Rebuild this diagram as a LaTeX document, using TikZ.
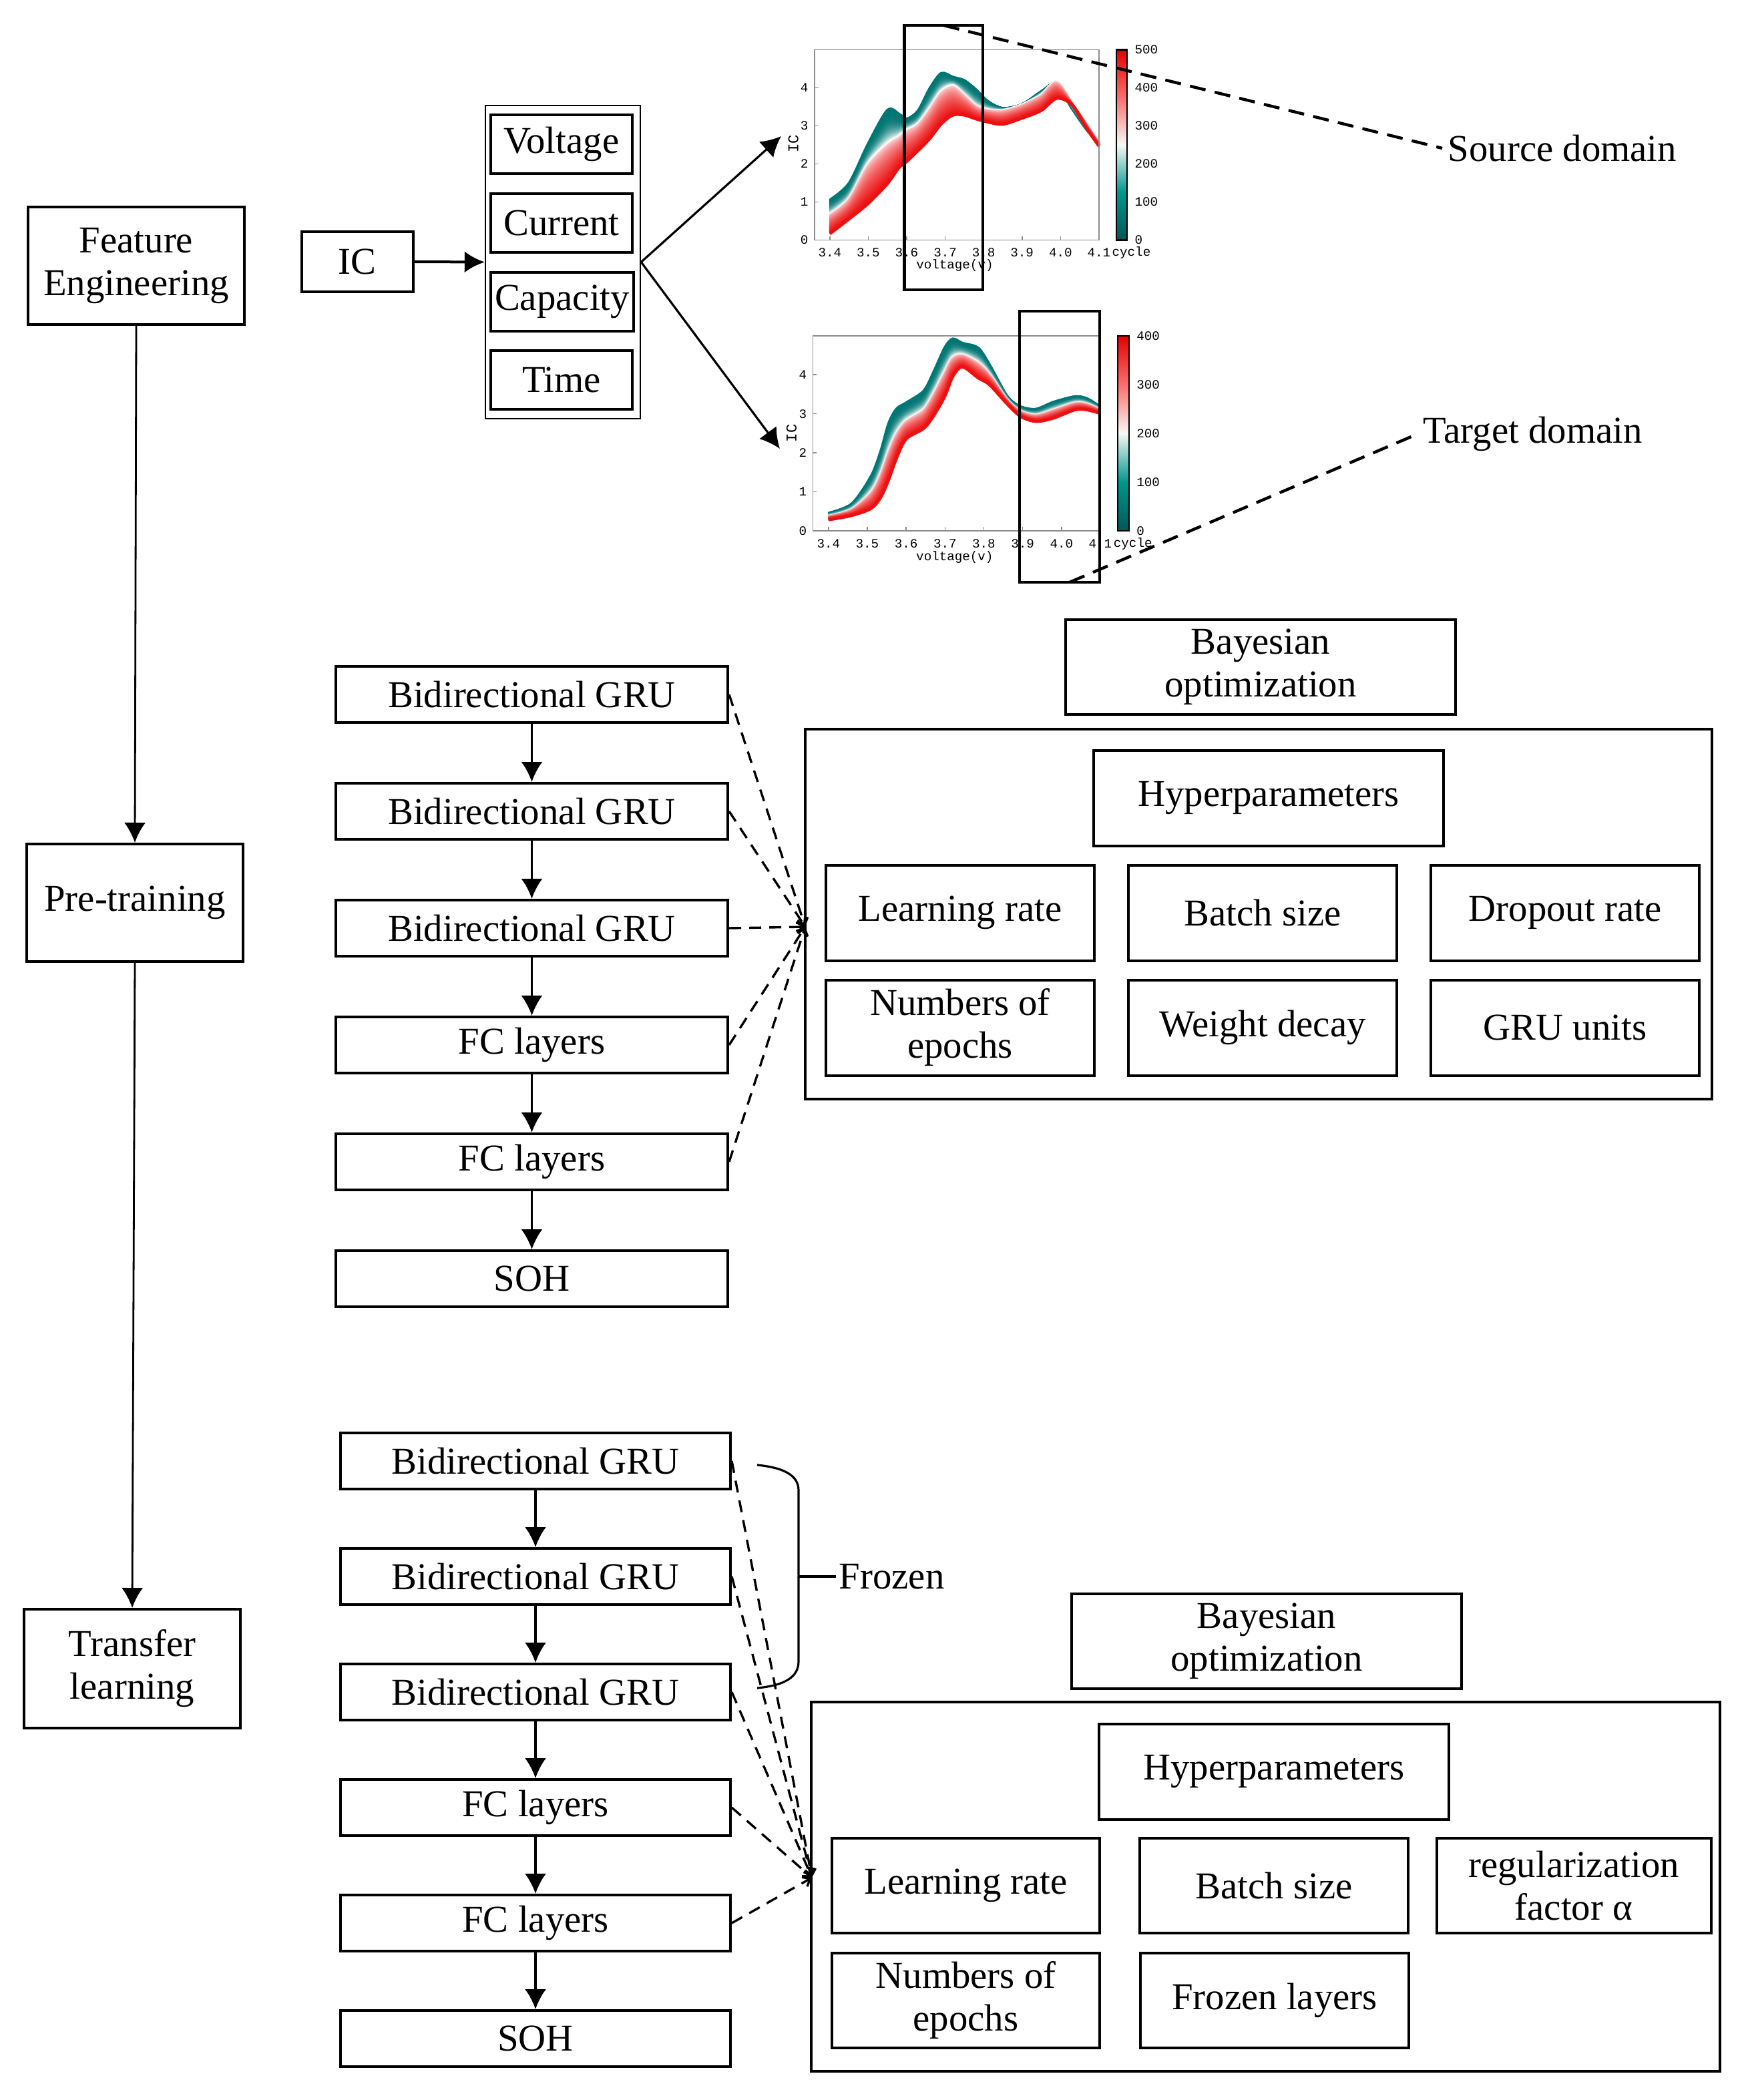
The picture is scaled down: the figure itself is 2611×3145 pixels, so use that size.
\documentclass[tikz,border=0pt]{standalone}
\usepackage{fontspec}
\setmainfont{Liberation Serif}
\setmonofont{Liberation Mono}
\usetikzlibrary{arrows.meta}
\definecolor{tealA}{RGB}{0,118,116}
\definecolor{redA}{RGB}{236,16,16}
\definecolor{framegray}{RGB}{140,140,140}
\definecolor{cbA}{RGB}{0,88,86}
\definecolor{cbB}{RGB}{0,150,142}
\definecolor{cbM}{RGB}{246,248,244}
\definecolor{cbC}{RGB}{250,110,108}
\definecolor{cbD}{RGB}{228,0,0}
\pgfdeclareverticalshading{cbar}{100bp}{color(0bp)=(cbA); color(25bp)=(cbA); color(37.5bp)=(cbB); color(50bp)=(cbM); color(62.5bp)=(cbC); color(75bp)=(cbD); color(100bp)=(cbD)}
\newcommand\boxfont{\fontsize{14.2}{16}\selectfont}
\newcommand\tkf{\ttfamily\fontsize{4.8}{6}\selectfont}
\newcommand\lbf{\ttfamily\fontsize{5.6}{6}\selectfont}
% chart data (voltage offset from 3.4 V, IC values)
\def\xsA{{0,0.05,0.10,0.15,0.18,0.20,0.23,0.26,0.29,0.32,0.35,0.38,0.41,0.45,0.50,0.55,0.59,0.63,0.67,0.70}}
\def\topA{{1.05,1.49,2.53,3.41,3.31,3.18,3.40,3.98,4.38,4.28,4.19,3.95,3.65,3.46,3.56,3.90,4.10,3.46,2.88,2.56}}
\def\midA{{0.67,1.08,2.00,2.53,2.72,2.88,3.05,3.45,3.90,4.05,3.80,3.52,3.42,3.40,3.55,3.81,4.16,3.58,3.00,2.53}}
\def\botA{{0.16,0.55,0.96,1.48,1.90,2.06,2.35,2.66,3.05,3.28,3.28,3.18,3.10,3.04,3.20,3.40,3.72,3.55,2.90,2.47}}
\def\xsB{{0,0.06,0.11,0.135,0.155,0.175,0.20,0.245,0.27,0.30,0.32,0.345,0.385,0.415,0.46,0.495,0.535,0.58,0.635,0.665,0.70}}
\def\topB{{0.45,0.69,1.40,2.05,2.75,3.12,3.28,3.58,4.05,4.70,4.92,4.81,4.69,4.25,3.45,3.18,3.12,3.30,3.44,3.39,3.18}}
\def\midB{{0.365,0.54,0.985,1.455,2.025,2.485,2.815,3.10,3.49,4.075,4.435,4.505,4.305,3.995,3.35,3.055,2.96,3.095,3.27,3.245,3.095}}
\def\botB{{0.28,0.39,0.57,0.86,1.30,1.85,2.35,2.62,2.93,3.45,3.95,4.20,3.92,3.74,3.25,2.93,2.80,2.89,3.10,3.10,3.01}}
\newcommand\drawband[5]{%
  \foreach \k in {0,...,48}{%
    \ifnum\k<25\relax
      \pgfmathsetmacro\s{\k/24}%
      \pgfmathsetmacro\p{100*\s*\s*\s}%
      \colorlet{bandc}{white!\p!tealA}%
      \draw[bandc,line width=1.05pt] plot[smooth,tension=0.5,variable=\i,samples at={0,...,#5}] ({#1[\i]},{#2[\i]+\s*(#3[\i]-#2[\i])});%
    \else
      \pgfmathsetmacro\s{(\k-24)/24}%
      \pgfmathsetmacro\p{100*sqrt(\s)}%
      \colorlet{bandc}{redA!\p!white}%
      \draw[bandc,line width=1.05pt] plot[smooth,tension=0.5,variable=\i,samples at={0,...,#5}] ({#1[\i]},{#3[\i]+\s*(#4[\i]-#3[\i])});%
    \fi
  }%
}
\begin{document}
\begin{tikzpicture}[x=0.25pt,y=-0.25pt,
  box/.style={draw,line width=1pt,align=center,inner sep=0pt,font=\boxfont},
  wh/.style 2 args={minimum width=#1*0.25pt,minimum height=#2*0.25pt},
  arr/.style={line width=0.8pt,-{Latex[length=7.5pt,width=8pt]}},
  dsh/.style={line width=0.85pt,dash pattern=on 4.5pt off 3pt,-{Straight Barb[length=2.5pt,width=4pt]}},
  lnk/.style={line width=1.1pt,dash pattern=on 6pt off 3.5pt},
  tk/.style={font=\tkf,inner sep=0pt},
  cfr/.style={framegray,line width=0.4pt}]
\useasboundingbox (0,0) rectangle (2611,3145);

% ---------- feature engineering row ----------
\node[box,wh={324}{176}] (fe) at (204,398) {Feature\\Engineering};
\node[box,wh={167}{90}] (ic) at (535,392) {IC};
\node[draw,line width=0.6pt,wh={232}{469}] (cont) at (843,392.5) {};
\node[box,wh={212}{88}] (volt) at (841,216) {Voltage};
\node[box,wh={212}{88}] (curr) at (841,334) {Current};
\node[box,wh={214}{88}] (capa) at (842,452) {Capacity};
\node[box,wh={212}{88}] (time) at (841,569) {Time};
\draw[arr,line width=1pt] (ic.east) -- (cont.west);
\coordinate (c1in) at (1170,204);
\coordinate (c2in) at (1168,672);
\draw[arr] (cont.east) -- (c1in);
\draw[arr] (cont.east) -- (c2in);

% ---------- chart 1 (source) ----------
\begin{scope}[xshift=310.7pt,yshift=-89.875pt,x=143.95pt,y=14.25pt]
  \drawband{\xsA}{\topA}{\midA}{\botA}{19}
  \draw[cfr] (-0.04,0) rectangle (0.7,5);
  \foreach \n in {0,...,7} \draw[cfr] (\n*0.1,0) -- (\n*0.1,0.1);
  \foreach \n in {1,...,4} \draw[cfr] (-0.04,\n) -- (-0.03,\n);
  \shade[shading=cbar] (0.7455,0) rectangle (0.7733,5);
  \draw[line width=0.6pt] (0.7455,0) rectangle (0.7733,5);
  \foreach \v [count=\n from 0] in {0,100,200,300,400,500}
    \node[tk,anchor=west] (cbA\n) at (0.792,\n) {\v};
  \foreach \lab [count=\n from 0] in {3.4,3.5,3.6,3.7,3.8,3.9,4.0,4.1}
    \node[tk] (xtA\n) at (\n*0.1,-0.33) {\lab};
  \foreach \n in {0,...,4}
    \node[tk,anchor=east] (ytA\n) at (-0.055,\n) {\n};
  \node[tk,font=\lbf,rotate=90] (ylA) at (-0.095,2.53) {IC};
  \node[tk] (xlA) at (0.325,-0.67) {voltage(v)};
  \node[tk,anchor=west] (cyA) at (0.733,-0.33) {cycle};
  \draw[line width=1.1pt] (0.194,-1.31) rectangle (0.398,5.64);
  \coordinate (hl1) at (0.296,5.64);
\end{scope}

% ---------- chart 2 (target) ----------
\begin{scope}[xshift=310.2pt,yshift=-198.725pt,x=145.4pt,y=14.6pt]
  \drawband{\xsB}{\topB}{\midB}{\botB}{20}
  \draw[cfr] (-0.04,0) rectangle (0.7,5);
  \foreach \n in {0,...,7} \draw[cfr] (\n*0.1,0) -- (\n*0.1,0.1);
  \foreach \n in {1,...,4} \draw[cfr] (-0.04,\n) -- (-0.03,\n);
  \shade[shading=cbar] (0.745,0) rectangle (0.774,5);
  \draw[line width=0.6pt] (0.745,0) rectangle (0.774,5);
  \foreach \v [count=\n from 0] in {0,100,200,300,400}
    \node[tk,anchor=west] (cbB\n) at (0.792,\n*1.25) {\v};
  \foreach \lab [count=\n from 0] in {3.4,3.5,3.6,3.7,3.8,3.9,4.0,4.1}
    \node[tk] (xtB\n) at (\n*0.1,-0.33) {\lab};
  \foreach \n in {0,...,4}
    \node[tk,anchor=east] (ytB\n) at (-0.055,\n) {\n};
  \node[tk,font=\lbf,rotate=90] (ylB) at (-0.095,2.5) {IC};
  \node[tk] (xlB) at (0.325,-0.68) {voltage(v)};
  \node[tk,anchor=west] (cyB) at (0.733,-0.33) {cycle};
  \draw[line width=1.1pt] (0.492,-1.32) rectangle (0.698,5.63);
  \coordinate (hl2) at (0.621,-1.32);
\end{scope}

\node[font=\boxfont,anchor=west,inner sep=2pt] (src) at (2160,222) {Source domain};
\node[font=\boxfont,anchor=west,inner sep=2pt] (tgt) at (2123,650) {Target domain};
\draw[lnk] (hl1) -- (src.west);
\draw[lnk] (hl2) -- (tgt.west);

% ---------- left column ----------
\node[box,wh={324}{176}] (pt) at (202,1352) {Pre-training};
\node[box,wh={324}{178}] (tl) at (198,2499) {Transfer\\learning};
\draw[arr,line width=0.7pt] (fe.south) -- (pt.north);
\draw[arr,line width=0.7pt] (pt.south) -- (tl.north);

% ---------- pre-training stack ----------
\node[box,wh={587}{84}] (pg1) at (796.5,1040) {Bidirectional GRU};
\node[box,wh={587}{84}] (pg2) at (796.5,1215) {Bidirectional GRU};
\node[box,wh={587}{84}] (pg3) at (796.5,1390) {Bidirectional GRU};
\node[box,wh={587}{84}] (pf1) at (796.5,1565) {FC layers};
\node[box,wh={587}{84}] (pf2) at (796.5,1740) {FC layers};
\node[box,wh={587}{84}] (ps) at (796.5,1915) {SOH};
\draw[arr] (pg1.south) -- (pg2.north);
\draw[arr] (pg2.south) -- (pg3.north);
\draw[arr] (pg3.south) -- (pf1.north);
\draw[arr] (pf1.south) -- (pf2.north);
\draw[arr] (pf2.south) -- (ps.north);

\node[box,wh={584}{142}] (bo1) at (1888,999) {Bayesian\\optimization};
\node[draw,line width=1pt,wh={1358}{554}] (big1) at (1885,1369) {};
\node[box,wh={524}{143}] (hy1) at (1900,1195) {Hyperparameters};
\node[box,wh={402}{143}] (lr1) at (1438,1367) {Learning rate};
\node[box,wh={402}{143}] (bs1) at (1891,1367) {Batch size};
\node[box,wh={402}{143}] (dr1) at (2344,1367) {Dropout rate};
\node[box,wh={402}{143}] (ne1) at (1438,1539) {Numbers of\\epochs};
\node[box,wh={402}{143}] (wd1) at (1891,1539) {Weight decay};
\node[box,wh={402}{143}] (gu1) at (2344,1539) {GRU units};
\coordinate (hp1) at (1206,1388);
\foreach \nd in {pg1,pg2,pg3,pf1,pf2} \draw[dsh] (\nd.east) -- (hp1);

% ---------- transfer stack ----------
\node[box,wh={584}{84}] (tg1) at (802,2188) {Bidirectional GRU};
\node[box,wh={584}{84}] (tg2) at (802,2361) {Bidirectional GRU};
\node[box,wh={584}{84}] (tg3) at (802,2534) {Bidirectional GRU};
\node[box,wh={584}{84}] (tf1) at (802,2707) {FC layers};
\node[box,wh={584}{84}] (tf2) at (802,2880) {FC layers};
\node[box,wh={584}{84}] (ts) at (802,3053) {SOH};
\draw[arr] (tg1.south) -- (tg2.north);
\draw[arr] (tg2.south) -- (tg3.north);
\draw[arr] (tg3.south) -- (tf1.north);
\draw[arr] (tf1.south) -- (tf2.north);
\draw[arr] (tf2.south) -- (ts.north);

% frozen brace
\coordinate (bra) at (1134,2194);
\coordinate (brb) at (1134,2528);
\coordinate (brm) at (1196,2361);
\draw[line width=0.8pt] (bra) .. controls (1175,2198) and (1196,2210) .. (1196,2232) -- (1196,2488) .. controls (1196,2512) and (1175,2524) .. (brb);
\node[font=\boxfont,anchor=west,inner sep=1pt] (frz) at (1252,2361) {Frozen};
\draw[line width=0.8pt] (brm) -- (frz.west);

\node[box,wh={584}{142}] (bo2) at (1897,2458) {Bayesian\\optimization};
\node[draw,line width=1pt,wh={1361}{553}] (big2) at (1895.5,2825.5) {};
\node[box,wh={524}{143}] (hy2) at (1908,2653) {Hyperparameters};
\node[box,wh={401}{142}] (lr2) at (1446.5,2824) {Learning rate};
\node[box,wh={402}{142}] (bs2) at (1908,2824) {Batch size};
\node[box,wh={411}{142}] (rf2) at (2357,2824) {regularization\\factor α};
\node[box,wh={401}{142}] (ne2) at (1446.5,2996) {Numbers of\\epochs};
\node[box,wh={402}{142}] (fl2) at (1909,2996) {Frozen layers};
\coordinate (hp2) at (1216,2812);
\foreach \nd in {tg1,tg2,tg3,tf1,tf2} \draw[dsh] (\nd.east) -- (hp2);
\end{tikzpicture}
\end{document}
